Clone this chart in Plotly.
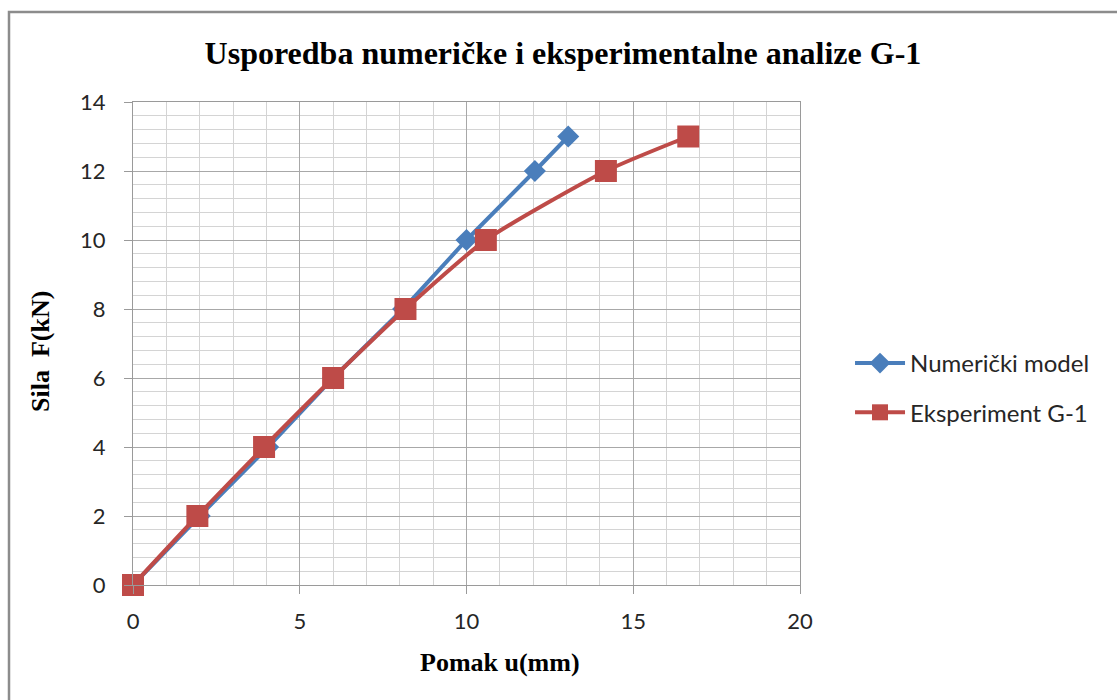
import plotly.graph_objects as go

# Displacement u (mm) and force F (kN) for both series
pomak_numericki = [0.0, 2.0, 4.05, 6.0, 8.1, 10.0, 12.05, 13.05]
sila_numericki = [0, 2, 4, 6, 8, 10, 12, 13]

pomak_eksperiment = [0.0, 1.93, 3.93, 6.0, 8.17, 10.58, 14.18, 16.65]
sila_eksperiment = [0, 2, 4, 6, 8, 10, 12, 13]

x_ticks = [0, 5, 10, 15, 20]
y_ticks = [0, 2, 4, 6, 8, 10, 12, 14]

BLUE = "#4a7ebb"
RED = "#be4b48"
TICK_FONT = dict(family="Lato, 'Open Sans', sans-serif", size=22, color="#262626")
SERIF_BOLD = "Liberation Serif, 'Times New Roman', serif"

fig = go.Figure()

fig.add_trace(go.Scatter(
    x=pomak_numericki, y=sila_numericki,
    mode="lines+markers",
    name="Numerički model",
    legendgroup="a",
    cliponaxis=False,
    line=dict(color=BLUE, width=4),
    marker=dict(symbol="diamond", size=17, color=BLUE),
))

fig.add_trace(go.Scatter(
    x=pomak_eksperiment, y=sila_eksperiment,
    mode="lines+markers",
    name="Eksperiment G-1",
    legendgroup="b",
    cliponaxis=False,
    line=dict(color=RED, width=4, shape="spline", smoothing=0.6),
    marker=dict(symbol="square", size=22, color=RED),
))

axis_common = dict(
    showline=True, linecolor="#9a9a9a", linewidth=1.3, mirror=True,
    ticks="outside", ticklen=8, tickcolor="#9a9a9a", tickwidth=1.3,
    showgrid=True, gridcolor="#a8a8a8", gridwidth=1.2,
    zeroline=False, tickfont=TICK_FONT,
)

fig.update_xaxes(
    range=[0, 20], tickvals=x_ticks, ticktext=[str(v) for v in x_ticks],
    minor=dict(dtick=1, tick0=0, showgrid=True, gridcolor="#d4d4d4", gridwidth=1.2, ticklen=0),
    ticklabelstandoff=8,
    **axis_common,
)
fig.update_yaxes(
    range=[0, 14], tickvals=y_ticks, ticktext=[str(v) for v in y_ticks],
    minor=dict(dtick=0.4, tick0=0, showgrid=True, gridcolor="#d4d4d4", gridwidth=1.2, ticklen=0),
    ticklabelstandoff=14,
    **axis_common,
)

fig.update_layout(
    width=1117, height=700,
    margin=dict(l=133, r=317, t=102, b=115),
    paper_bgcolor="white", plot_bgcolor="white",
    title=dict(
        text="<b>Usporedba numeričke i eksperimentalne analize G-1</b>",
        font=dict(family=SERIF_BOLD, size=32, color="black"),
        x=0.504, xref="container", xanchor="center",
        y=1 - 53 / 700, yref="container", yanchor="middle",
    ),
    showlegend=True,
    legend=dict(
        x=1.075, xanchor="left", y=(585 - 388) / 483, yanchor="middle",
        font=dict(family="Lato, 'Open Sans', sans-serif", size=24, color="#262626"),
        tracegroupgap=15, itemwidth=50,
        bgcolor="rgba(0,0,0,0)",
    ),
    annotations=[
        dict(text="<b>Pomak u(mm)</b>", xref="paper", yref="paper",
             x=(500 - 133) / 667, y=-(662 - 585) / 483,
             xanchor="center", yanchor="middle", showarrow=False,
             font=dict(family=SERIF_BOLD, size=26, color="black")),
        dict(text="<b>Sila\u00a0 F(kN)</b>", xref="paper", yref="paper",
             x=-(133 - 40) / 667, y=(585 - 352) / 483, textangle=-90,
             xanchor="center", yanchor="middle", showarrow=False,
             font=dict(family=SERIF_BOLD, size=26, color="black")),
    ],
    shapes=[
        # outer chart frame, running off the right and bottom edges
        dict(type="rect", xref="paper", yref="paper",
             x0=-(133 - 9) / 667, y0=-0.5, x1=2.0, y1=(585 - 12) / 483,
             line=dict(color="#8c8c8c", width=2.5), fillcolor="rgba(0,0,0,0)",
             layer="below"),
    ],
)

fig.write_html("out.html")
